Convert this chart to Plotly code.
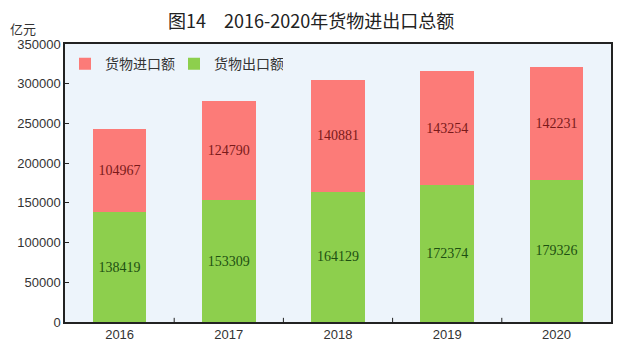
import plotly.graph_objects as go

years = ["2016", "2017", "2018", "2019", "2020"]
exports = [138419, 153309, 164129, 172374, 179326]
imports = [104967, 124790, 140881, 143254, 142231]
y_ticks = [0, 50000, 100000, 150000, 200000, 250000, 300000, 350000]

fig = go.Figure()
fig.add_trace(go.Bar(
    x=years, y=exports, name="货物出口额",
    marker=dict(color="#8dcf4d", line=dict(width=0)),
    text=[str(v) for v in exports], textposition="inside", insidetextanchor="middle",
    textfont=dict(color="#1e4f12", size=14, family="Liberation Serif"),
    width=0.49,
))
fig.add_trace(go.Bar(
    x=years, y=imports, name="货物进口额",
    marker=dict(color="#fc7b78", line=dict(width=0)),
    text=[str(v) for v in imports], textposition="inside", insidetextanchor="middle",
    textfont=dict(color="#7a1a1a", size=14, family="Liberation Serif"),
    width=0.49,
))

fig.update_layout(
    barmode="stack",
    width=640, height=357,
    margin=dict(l=57, r=37, t=36, b=43, autoexpand=False),
    paper_bgcolor="white",
    plot_bgcolor="#edf4fb",
    font=dict(family="Noto Sans CJK SC", color="#333333"),
    showlegend=True,
    legend=dict(
        orientation="h", x=0.0, y=0.985, xanchor="left", yanchor="top",
        traceorder="reversed", bgcolor="rgba(0,0,0,0)",
        font=dict(size=14, color="#333333", family="Noto Sans CJK SC"),
        itemwidth=30, entrywidth=64,
    ),
)
fig.update_yaxes(
    range=[0, 350000], tickvals=y_ticks, ticktext=[str(v) for v in y_ticks],
    showgrid=False, zeroline=False, automargin=False,
    showline=True, linecolor="#222222", linewidth=1.5, mirror=True,
    ticks="inside", ticklen=4, tickcolor="#222222",
    tickfont=dict(size=13, color="#333333", family="Liberation Sans"),
)
fig.update_xaxes(
    showgrid=False, showline=True, linecolor="#222222", linewidth=1.5, mirror=True,
    ticks="", automargin=False,
    tickfont=dict(size=13, color="#333333", family="Liberation Sans"),
)
# category boundary tick marks on x axis
for i in range(1, len(years)):
    fig.add_shape(type="line", xref="x", yref="paper", x0=i - 0.5, x1=i - 0.5,
                  y0=0, y1=0.015, line=dict(color="#222222", width=1))

fig.add_annotation(text="图14　2016-2020年货物进出口总额", xref="paper", yref="paper",
                   x=0.5, y=1.0, xshift=-27, yshift=24, xanchor="center", yanchor="middle",
                   showarrow=False, font=dict(size=18, color="#222222", family="Noto Sans CJK SC"))
fig.add_annotation(text="亿元", xref="paper", yref="paper", x=0, y=1.0, xshift=-42, yshift=16,
                   xanchor="center", yanchor="middle", showarrow=False,
                   font=dict(size=13, color="#333333", family="Noto Sans CJK SC"))

fig.write_html("out.html")
